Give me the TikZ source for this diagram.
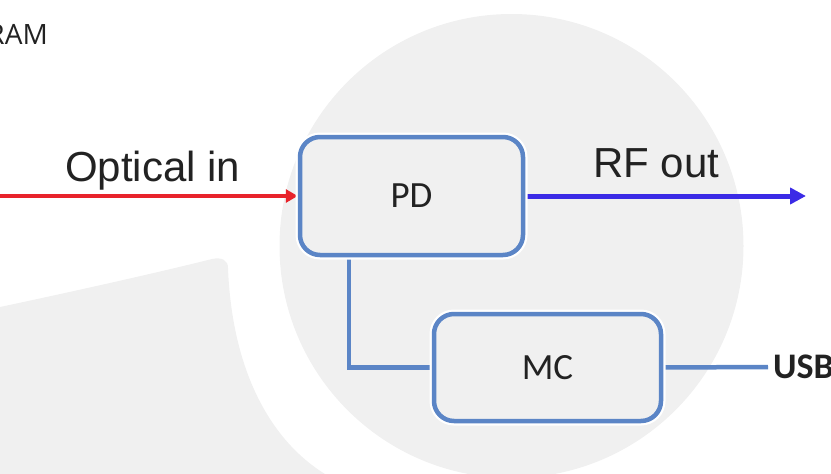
\documentclass[tikz,border=0pt]{standalone}
\usepackage{fontspec}
\setmainfont{Liberation Sans}
\newfontfamily\calib{Carlito}
\newfontfamily\opens{Open Sans}
\usetikzlibrary{arrows.meta}
\definecolor{bgray}{HTML}{F0F0F0}
\definecolor{boxblue}{HTML}{5B85C6}
\definecolor{redline}{HTML}{E8232B}
\definecolor{rfblue}{HTML}{3B2BE6}
\definecolor{txt}{HTML}{222222}
\pgfdeclarelayer{bglayer}
\pgfdeclarelayer{connlayer}
\pgfsetlayers{bglayer,connlayer,main}
\tikzset{
  blk/.style={draw=boxblue, line width=4.5pt, rounded corners=20pt, fill=bgray,
    preaction={draw=white, line width=9pt},
    font=\calib\fontsize{37}{42}\selectfont, text=txt, inner sep=0pt},
  conn/.style={draw=boxblue, line width=4.5pt},
  lbl/.style={font=\fontsize{42}{48}\selectfont, text=txt, inner sep=0pt, anchor=base west},
  bgshape/.style={fill=bgray}
}
\begin{document}
\begin{tikzpicture}[x=1pt,y=-1pt]
\useasboundingbox (0,0) rectangle (831,474);
\begin{pgfonlayer}{bglayer}
  \begin{scope}
    \clip (0,0) rectangle (831,474);
    \fill[bgshape] (511.5,246) circle[radius=232pt];
    \fill[bgshape] (0,307) .. controls (80,290) and (160,272) .. (212,259)
      .. controls (222,257) and (228,260) .. (228,268)
      .. controls (232,370) and (270,440) .. (325,474) -- (0,474) -- cycle;
  \end{scope}
\end{pgfonlayer}

\node[blk, minimum width=223pt, minimum height=118pt] (pd) at (411.5,196) {PD};
\node[blk, minimum width=227pt, minimum height=107pt] (mc) at (547.5,367.5) {MC};

\node[font=\opens\fontsize{28}{32}\selectfont, text=txt, inner sep=0pt, anchor=base east] (ram) at (48,44) {RAM};
\node[lbl] (optin) at (65,181) {Optical in};
\node[lbl] (rfout) at (593,177) {RF out};
\node[font=\calib\bfseries\fontsize{36}{40}\selectfont, text=txt, inner xsep=5pt, inner ysep=0pt, anchor=west] (usb) at (768,367) {USB};

\coordinate (oin) at (0,196);
\coordinate (rfend) at (806,196);
\coordinate (k) at (349,367.5);

\begin{pgfonlayer}{connlayer}
  \draw[redline, line width=4pt, -{Triangle[length=12pt,width=13pt]}] (oin) -- (pd.west);
  \draw[rfblue, line width=5pt, -{Triangle[length=16pt,width=16pt]}] (pd.east) -- (rfend);
  \draw[conn] (pd.south -| k) -- (k) -- (mc.west);
  \draw[conn] (mc.east) -- (usb.west);
\end{pgfonlayer}
\end{tikzpicture}
\end{document}
